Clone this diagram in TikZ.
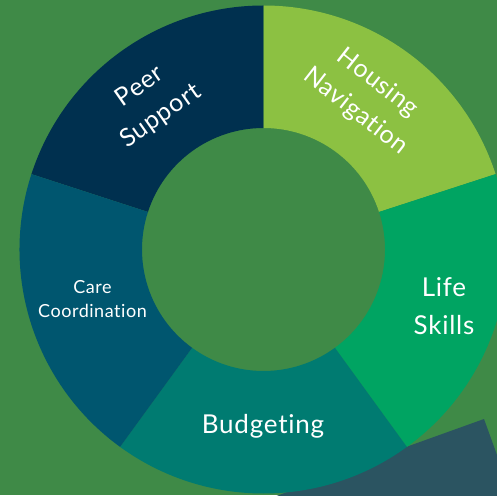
\documentclass[tikz,border=0pt]{standalone}
\usepackage{fontspec}
\setmainfont{Lato}[Ligatures={NoCommon}, LetterSpace=3]
\definecolor{bggreen}{HTML}{3F8A47}
\definecolor{peercol}{HTML}{00304F}
\definecolor{housecol}{HTML}{8CC142}
\definecolor{lifecol}{HTML}{00A462}
\definecolor{budgcol}{HTML}{007B71}
\definecolor{carecol}{HTML}{00566F}
\definecolor{slabcol}{HTML}{2B5461}
\tikzset{
  seglabel/.style={text=white, align=center, inner sep=0pt},
}
\newcommand{\ringseg}[3]{%
  \fill[#1] (#2:244pt) arc[start angle=#2, end angle=#3, radius=244pt]
    -- (#3:121.5pt) arc[start angle=#3, end angle=#2, radius=121.5pt] -- cycle;}
\begin{document}
\begin{tikzpicture}[x=1pt,y=1pt]
\useasboundingbox (0,0) rectangle (497,495);
\fill[bggreen] (0,0) rectangle (497,495);
% dark slanted slab behind the ring
\fill[slabcol] (200,-30) -- (406,48) -- (484,76) -- (497,40) -- (520,-30) -- cycle;
\begin{scope}[shift={(263.5,245.5)}]
  \ringseg{peercol}{162}{90}
  \ringseg{housecol}{90}{18}
  \ringseg{lifecol}{18}{-54}
  \ringseg{budgcol}{-54}{-126}
  \ringseg{carecol}{-126}{-198}
\end{scope}
\node[seglabel, rotate=35, font=\fontsize{25}{36}\selectfont] (peer) at (150.5,393.5) {Peer\\Support};
\node[seglabel, rotate=-38, font=\fontsize{25}{36}\selectfont] (housing) at (366.5,397.5) {Housing\\Navigation};
\node[seglabel, font=\fontsize{26}{38}\selectfont] (life) at (444,188.5) {Life\\Skills};
\node[seglabel, anchor=base, font=\fontsize{26}{30}\selectfont] (budget) at (263,62) {Budgeting};
\node[seglabel, font=\fontsize{18}{24}\selectfont] (care) at (92.5,196) {Care\\Coordination};
\end{tikzpicture}
\end{document}
